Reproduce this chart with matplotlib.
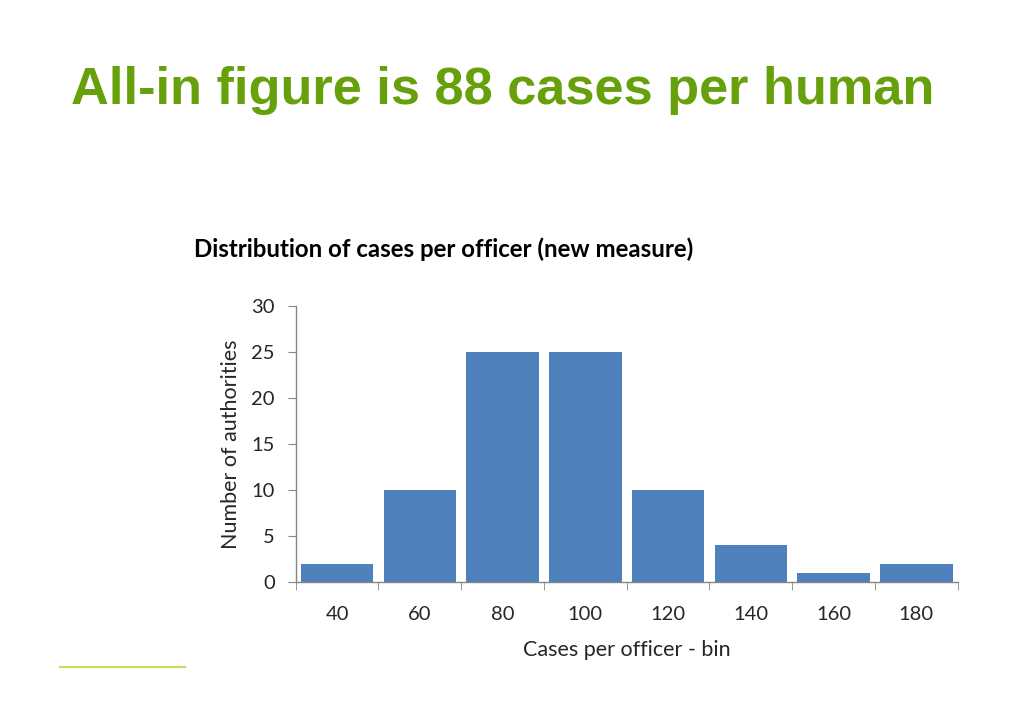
import numpy as np
import matplotlib.pyplot as plt

bins = ["40", "60", "80", "100", "120", "140", "160", "180"]
counts = [2, 10, 25, 25, 10, 4, 1, 2]
y_ticks = [0, 5, 10, 15, 20, 25, 30]

bar_col = "#4f81bd"
axis_col = "#868686"
txt_col = "#262626"

fig = plt.figure(figsize=(10.24, 7.09), dpi=100)

# slide heading
fig.text(0.069, 0.872, "All-in figure is 88 cases per human", fontsize=37.7,
         fontweight="bold", color="#66a00a", family="Liberation Sans",
         ha="left", va="center")

# small underline at bottom left of the slide
fig.add_artist(plt.Line2D([0.059, 0.181], [0.0597, 0.0597], color="#c8dc64", lw=1.6))

# chart title
fig.text(0.4336, 0.648, "Distribution of cases per officer (new measure)", fontsize=17.3,
         fontweight="bold", color="black", family="Lato", ha="center", va="center")

ax = fig.add_axes([0.2888, 0.1791, 0.6465, 0.3893])
x = np.arange(len(bins))
ax.bar(x, counts, width=0.875, color=bar_col, zorder=2)

ax.set_xlim(-0.5, len(bins) - 0.5)
ax.set_ylim(0, 30)
ax.set_yticks(y_ticks)
ax.set_xticks(x)
ax.set_xticklabels(bins)
ax.set_xticks(np.arange(-0.5, len(bins)), minor=True)

for s in ["top", "right"]:
    ax.spines[s].set_visible(False)
for s in ["left", "bottom"]:
    ax.spines[s].set_color(axis_col)
    ax.spines[s].set_linewidth(1.0)

ax.tick_params(axis="x", which="major", length=0, pad=17, labelsize=14.5, labelcolor=txt_col)
ax.tick_params(axis="x", which="minor", length=6, color=axis_col, direction="out")
ax.tick_params(axis="y", length=6, color=axis_col, pad=9, labelsize=14.5, labelcolor=txt_col)
for lab in ax.get_xticklabels() + ax.get_yticklabels():
    lab.set_family("Lato")

ax.set_ylabel("Number of authorities", fontsize=15.5, family="Lato", color=txt_col, labelpad=7.5)
ax.set_xlabel("Cases per officer - bin", fontsize=15.5, family="Lato", color=txt_col, labelpad=12.5)

fig.savefig("out.png", dpi=100)
